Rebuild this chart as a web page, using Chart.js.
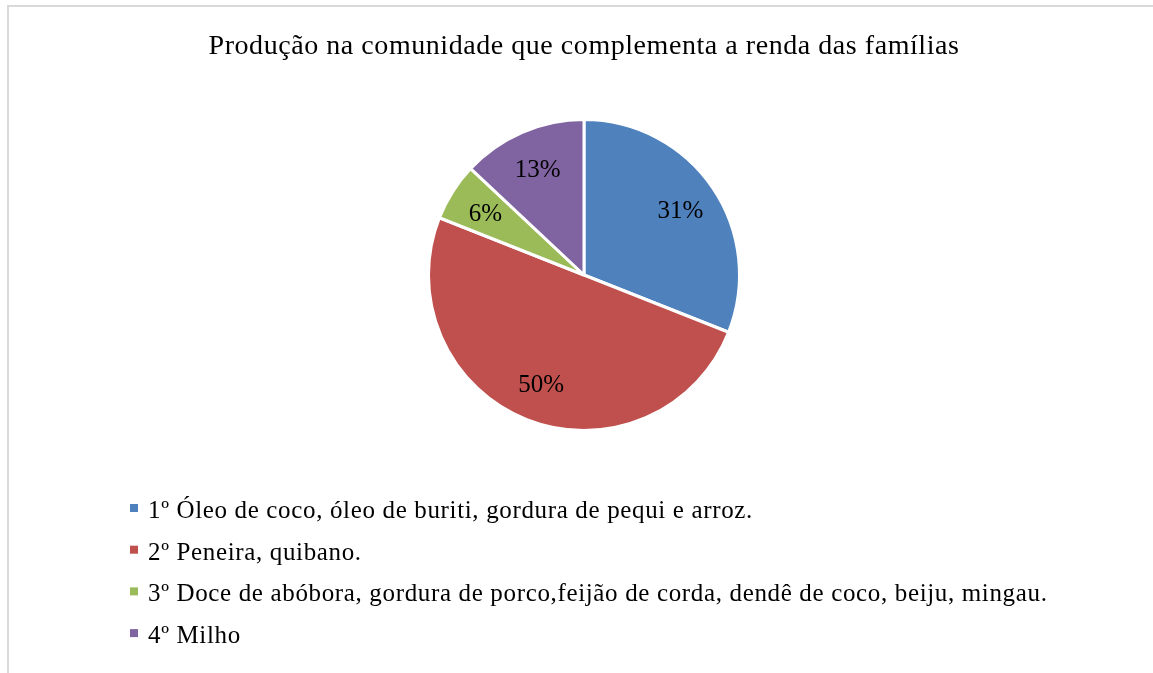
<!DOCTYPE html>
<html>
<head>
<meta charset="utf-8">
<script src="https://cdn.jsdelivr.net/npm/chart.js@4"></script>
<style>
  html, body { margin: 0; padding: 0; background: #fff; overflow: hidden; }
  #frame { position: absolute; left: 7px; top: 5px; width: 1300px; height: 800px; border: 2px solid #d9d9d9; }
  #pieChart { position: absolute; left: 0; top: 0; }
</style>
</head>
<body>
<div id="frame"></div>
<canvas id="pieChart" width="1153" height="673"></canvas>
<script>
const titulo = 'Produção na comunidade que complementa a renda das famílias';
const categorias = [
    '1º Óleo de coco, óleo de buriti, gordura de pequi e arroz.',
    '2º Peneira, quibano.',
    '3º Doce de abóbora, gordura de porco,feijão de corda, dendê de coco, beiju, mingau.',
    '4º Milho'
];
const valores = [31, 50, 6, 13];
const cores = ['#4F81BD', '#C0504D', '#9BBB59', '#8064A2'];

const fonte = "'Liberation Serif', 'Times New Roman', serif";

// titulo desenhado a mao (precisa de letterSpacing)
const cabecalho = {
    id: 'cabecalho',
    afterDraw(chart) {
        const ctx = chart.ctx;
        ctx.save();
        ctx.font = '28px ' + fonte;
        ctx.letterSpacing = '0.55px';
        ctx.fillStyle = '#000';
        ctx.textAlign = 'center';
        ctx.textBaseline = 'alphabetic';
        ctx.fillText(titulo, 584, 54);
        ctx.restore();
    }
};

// rotulos de porcentagem dentro das fatias
const rotulos = {
    id: 'rotulos',
    afterDatasetsDraw(chart) {
        const ctx = chart.ctx;
        const meta = chart.getDatasetMeta(0);
        const total = valores.reduce((a, b) => a + b, 0);
        ctx.save();
        ctx.font = '25px ' + fonte;
        ctx.fillStyle = '#000';
        ctx.textAlign = 'center';
        ctx.textBaseline = 'middle';
        meta.data.forEach((arc, i) => {
            const p = arc.getProps(['x', 'y', 'startAngle', 'endAngle', 'outerRadius']);
            const ang = (p.startAngle + p.endAngle) / 2;
            const r = p.outerRadius * 0.75;
            ctx.fillText(Math.round(valores[i] / total * 100) + '%', p.x + Math.cos(ang) * r, p.y + Math.sin(ang) * r + 2);
        });
        ctx.restore();
    }
};

// legenda vertical abaixo do grafico
const legenda = {
    id: 'legenda',
    afterDraw(chart) {
        const ctx = chart.ctx;
        ctx.save();
        ctx.font = '25px ' + fonte;
        ctx.letterSpacing = '0.65px';
        ctx.textBaseline = 'alphabetic';
        chart.data.labels.forEach((txt, i) => {
            const y = 518 + i * 41.7;
            ctx.fillStyle = cores[i];
            ctx.fillRect(130, y - 14, 8, 8);
            ctx.fillStyle = '#000';
            ctx.fillText(txt, 148, y);
        });
        ctx.restore();
    }
};

new Chart(document.getElementById('pieChart'), {
    type: 'pie',
    data: {
        labels: categorias,
        datasets: [{
            data: valores,
            backgroundColor: cores,
            borderColor: '#fff',
            borderWidth: 3
        }]
    },
    options: {
        responsive: false,
        animation: false,
        layout: { padding: { top: 118, left: 16, right: 1, bottom: 241 } },
        plugins: {
            legend: { display: false },
            tooltip: { enabled: false },
            title: { display: false }
        }
    },
    plugins: [rotulos, legenda, cabecalho]
});
</script>
</body>
</html>
